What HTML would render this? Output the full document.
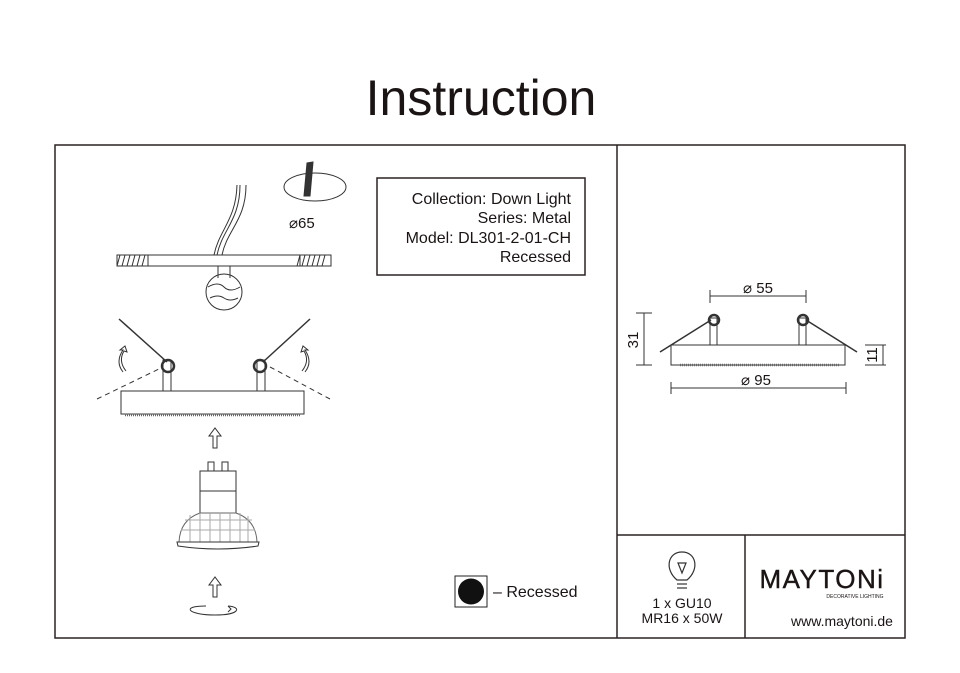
<!DOCTYPE html>
<html><head><meta charset="utf-8"><style>
html,body{margin:0;padding:0;background:#fff}
svg{display:block}
text{font-family:"Liberation Sans",sans-serif;fill:#1a1414}
</style></head><body>
<svg width="960" height="673" viewBox="0 0 960 673" xmlns="http://www.w3.org/2000/svg">
<rect width="960" height="673" fill="#fff"/>
<text x="481" y="115" font-size="50" text-anchor="middle">Instruction</text>
<g stroke="#2a2222" fill="none" stroke-width="1.5">
<rect x="55" y="145" width="850" height="493"/>
<line x1="617" y1="145" x2="617" y2="638"/>
<line x1="617" y1="535" x2="905" y2="535"/>
<line x1="745" y1="535" x2="745" y2="638"/>
<rect x="377" y="178" width="208" height="97"/>
</g>
<g font-size="16" text-anchor="end">
<text x="571" y="204">Collection: Down Light</text>
<text x="571" y="223">Series: Metal</text>
<text x="571" y="243">Model: DL301-2-01-CH</text>
<text x="571" y="262">Recessed</text>
</g>
<g stroke="#333" fill="none" stroke-width="1">
<ellipse cx="315" cy="187" rx="31" ry="14"/>
<path d="M307 163 L313 162 L310 196 L304 196 Z" fill="#333"/>
<rect x="117" y="255" width="214" height="11"/>
<path d="M120 255 l-3 11 M125 255 l-3 11 M130 255 l-3 11 M135 255 l-3 11 M140 255 l-3 11 M145 255 l-3 11 M300 255 l-3 11 M305 255 l-3 11 M310 255 l-3 11 M315 255 l-3 11 M320 255 l-3 11 M325 255 l-3 11"/>
<line x1="148" y1="255" x2="148" y2="266"/><line x1="300" y1="255" x2="300" y2="266"/>
<path d="M217 255 C222 230 240 220 240 185 M222 255 C227 230 246 220 246 185 M214 255 C219 230 236 220 237 185"/>
<circle cx="224" cy="292" r="18"/>
<path d="M208 287 q10 -6 16 0 q6 6 16 0 M210 298 q8 -4 14 0 q6 4 14 0" />
<line x1="218" y1="266" x2="218" y2="278"/><line x1="230" y1="266" x2="230" y2="278"/>
<rect x="121" y="391" width="183" height="23"/>
<line x1="125" y1="415" x2="300" y2="415" stroke-width="2.5" stroke="#666" stroke-dasharray="1 1"/>
<line x1="119" y1="319" x2="167" y2="362" stroke-width="1.5"/>
<line x1="310" y1="319" x2="263" y2="362" stroke-width="1.5"/>
<rect x="163" y="360" width="8" height="31"/><rect x="257" y="360" width="8" height="31"/>
<circle cx="168" cy="366" r="6" stroke-width="2.5"/><circle cx="260" cy="366" r="6" stroke-width="2.5"/>
<line x1="97" y1="399" x2="163" y2="367" stroke-dasharray="5 4"/>
<line x1="270" y1="367" x2="330" y2="399" stroke-dasharray="5 4"/>
<path d="M123 372 q-8 -10 0 -22 l-3 0 5 -4 2 6 -3 -1 q-6 10 2 20"/>
<path d="M305 372 q8 -10 0 -22 l3 0 -5 -4 -2 6 3 -1 q6 10 -2 20"/>
<path d="M213 448 l0 -12 -4 0 6 -8 6 8 -4 0 0 12 z"/>
<rect x="208" y="462" width="6" height="9"/><rect x="222" y="462" width="6" height="9"/>
<rect x="200" y="471" width="36" height="42"/>
<line x1="200" y1="491" x2="236" y2="491"/>
<path d="M200 513 Q180 520 179 542 L257 542 Q256 520 236 513 Z" stroke="#666"/>
<path d="M185 520 L252 520 M181 530 L255 530 M190 515 L190 542 M200 513 L200 542 M210 513 L210 542 M220 513 L220 542 M230 513 L230 542 M240 513 L240 542 M248 516 L248 542" stroke="#aaa"/>
<path d="M177 542 L259 542 L258 546 Q218 552 178 546 Z"/>
<path d="M213 597 l0 -12 -4 0 6 -8 6 8 -4 0 0 12 z"/>
<path d="M206 606 C180 606 188 615 215 615 C240 615 242 607 228 606"/>
<path d="M228 612 l3 -3 -3 -3"/>
</g>
<text x="289" y="228" font-size="15">⌀65</text>
<rect x="455" y="576" width="32" height="31" fill="#fff" stroke="#222"/>
<circle cx="471" cy="591.5" r="13" fill="#111"/>
<text x="493" y="597" font-size="16">– Recessed</text>
<g stroke="#333" fill="none" stroke-width="1">
<line x1="710" y1="290" x2="710" y2="303"/><line x1="806" y1="290" x2="806" y2="303"/>
<line x1="710" y1="296" x2="806" y2="296"/>
<rect x="671" y="345" width="174" height="20"/>
<line x1="680" y1="365" x2="840" y2="365" stroke-width="2.5" stroke="#666" stroke-dasharray="1 1"/>
<rect x="710" y="318" width="7" height="27"/><rect x="799" y="318" width="7" height="27"/>
<circle cx="714" cy="320" r="5" stroke-width="2.5"/><circle cx="803" cy="320" r="5" stroke-width="2.5"/>
<line x1="660" y1="352" x2="711" y2="320" stroke-width="1.5"/>
<line x1="806" y1="320" x2="857" y2="352" stroke-width="1.5"/>
<line x1="636" y1="313" x2="652" y2="313"/><line x1="636" y1="365" x2="652" y2="365"/>
<line x1="644" y1="313" x2="644" y2="365"/>
<line x1="865" y1="345" x2="886" y2="345"/><line x1="865" y1="365" x2="886" y2="365"/>
<line x1="883" y1="345" x2="883" y2="365"/>
<line x1="671" y1="382" x2="671" y2="394"/><line x1="846" y1="382" x2="846" y2="394"/>
<line x1="671" y1="388" x2="846" y2="388"/>
</g>
<text x="758" y="293" font-size="15" text-anchor="middle">⌀ 55</text>
<text x="756" y="385" font-size="15" text-anchor="middle">⌀ 95</text>
<text x="638" y="340" font-size="15" text-anchor="middle" transform="rotate(-90 638 340)">31</text>
<text x="877" y="355" font-size="15" text-anchor="middle" transform="rotate(-90 877 355)">11</text>
<g stroke="#333" fill="none" stroke-width="1.2">
<path d="M677 580 C664 569 668 552 682 552 C696 552 700 569 687 580 Z"/>
<path d="M678 563 L686 563 L682 573 Z"/>
<line x1="677" y1="584" x2="687" y2="584"/><line x1="677" y1="588" x2="687" y2="588"/>
</g>
<text x="682" y="608" font-size="14" text-anchor="middle">1 x GU10</text>
<text x="682" y="623" font-size="14" text-anchor="middle">MR16 x 50W</text>
<text x="822" y="588" font-size="26" text-anchor="middle" letter-spacing="1.5" stroke="#1a1414" stroke-width="0.4">MAYTONi</text>
<text x="855" y="598" font-size="5" text-anchor="middle">DECORATIVE LIGHTING</text>
<text x="842" y="626" font-size="14" text-anchor="middle">www.maytoni.de</text>
</svg>
</body></html>
